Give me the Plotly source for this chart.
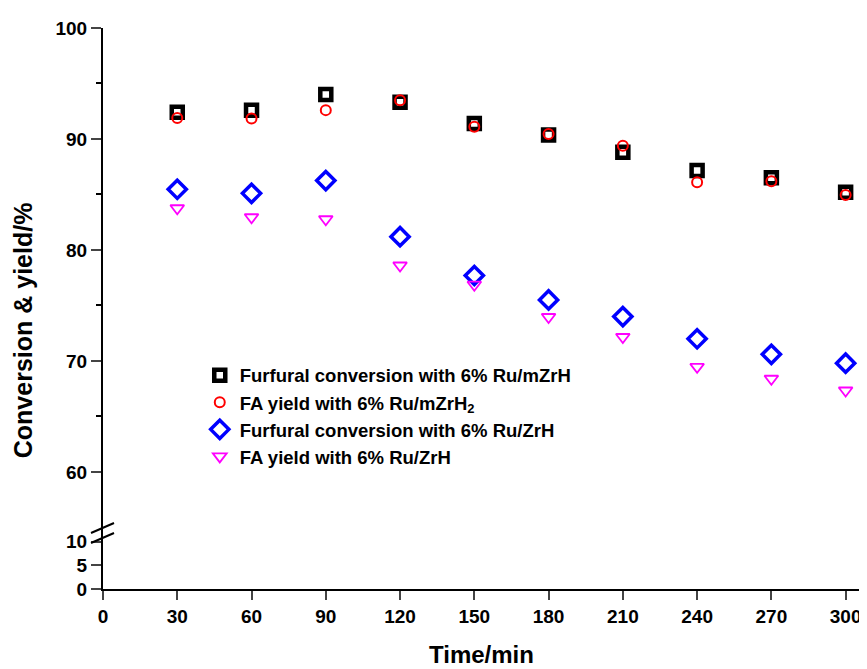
import plotly.graph_objects as go

time_min = [30, 60, 90, 120, 150, 180, 210, 240, 270, 300]
conv_mzrh = [92.4, 92.6, 94.0, 93.3, 91.4, 90.35, 88.8, 87.15, 86.5, 85.2]
yield_mzrh = [91.9, 91.85, 92.6, 93.5, 91.1, 90.45, 89.4, 86.1, 86.2, 84.96]
conv_zrh = [85.47, 85.1, 86.25, 81.2, 77.7, 75.5, 74.0, 72.0, 70.6, 69.8]
yield_zrh = [83.76, 82.95, 82.77, 78.6, 76.87, 73.96, 72.16, 69.47, 68.4, 67.34]

x_ticks = [0, 30, 60, 90, 120, 150, 180, 210, 240, 270, 300]
upper_ticks = [60, 70, 80, 90, 100]
upper_minor = [65, 75, 85, 95]
lower_ticks = [0, 5, 10]

names = [
    "Furfural conversion with 6% Ru/mZrH",
    "FA yield with 6% Ru/mZrH<sub>2</sub>",
    "Furfural conversion with 6% Ru/ZrH",
    "FA yield with 6% Ru/ZrH",
]

FONT = "Liberation Sans, Arial, Helvetica, sans-serif"

fig = go.Figure()
# empty trace so the lower (0-10) segment of the broken axis is created
fig.add_trace(go.Scatter(x=[None], y=[None], mode="markers", showlegend=False, hoverinfo="skip", yaxis="y"))
fig.add_trace(go.Scatter(x=time_min, y=conv_mzrh, mode="markers", name=names[0], yaxis="y2",
                         marker=dict(symbol="square-open", size=11, color="black", line=dict(width=4.5, color="black"))))
fig.add_trace(go.Scatter(x=time_min, y=yield_mzrh, mode="markers", name=names[1], yaxis="y2",
                         marker=dict(symbol="circle-open", size=10, color="red", line=dict(width=2, color="red"))))
fig.add_trace(go.Scatter(x=time_min, y=conv_zrh, mode="markers", name=names[2], yaxis="y2",
                         marker=dict(symbol="diamond-open", size=14, color="blue", line=dict(width=3.5, color="blue"))))
fig.add_trace(go.Scatter(x=time_min, y=yield_zrh, mode="markers", name=names[3], yaxis="y2",
                         marker=dict(symbol="triangle-down-open", size=12, color="magenta", line=dict(width=1.8, color="magenta"))))

split = 54 / 561.0
tickfont = dict(family=FONT, size=19, color="black", weight="bold")

fig.update_layout(
    width=859, height=661,
    margin=dict(l=95, r=6, t=20, b=80),
    paper_bgcolor="white", plot_bgcolor="white",
    showlegend=True,
    legend=dict(x=0.128, y=0.414, xanchor="left", yanchor="top",
                bgcolor="rgba(0,0,0,0)", font=dict(family=FONT, size=18.5, color="black", weight="bold"),
                tracegroupgap=0, itemsizing="trace"),
    xaxis=dict(range=[0, 305.4], tickvals=x_ticks, ticks="outside", ticklen=9, tickwidth=2,
               showline=True, linewidth=2, linecolor="black", showgrid=False, zeroline=False,
               tickfont=tickfont, anchor="y"),
    yaxis=dict(domain=[0, split], range=[0, 11.42], tickvals=lower_ticks, ticks="outside", ticklen=10, tickwidth=2,
               showline=True, linewidth=2, linecolor="black", showgrid=False, zeroline=False,
               tickfont=tickfont, anchor="x"),
    yaxis2=dict(domain=[split, 1], range=[54.32, 100], tickvals=upper_ticks, ticks="outside", ticklen=10, tickwidth=2,
                minor=dict(tickmode="array", tickvals=upper_minor, ticks="outside", ticklen=5, tickwidth=2, tickcolor="black"),
                showline=True, linewidth=2, linecolor="black", showgrid=False, zeroline=False,
                tickfont=tickfont, anchor="x"),
    annotations=[
        dict(text="Conversion & yield/%", x=-0.1055, y=0.4617, xref="paper", yref="paper",
             xanchor="center", yanchor="middle", textangle=-90, showarrow=False,
             font=dict(family=FONT, size=25, color="black", weight="bold")),
        dict(text="Time/min", x=0.5, y=-0.1165, xref="paper", yref="paper",
             xanchor="center", yanchor="middle", showarrow=False,
             font=dict(family=FONT, size=24, color="black", weight="bold")),
    ],
    shapes=[
        dict(type="line", xref="paper", yref="paper", xsizemode="pixel", ysizemode="pixel",
             xanchor=0, yanchor=split, x0=-12, x1=11, y0=2, y1=12, line=dict(color="black", width=2)),
        dict(type="line", xref="paper", yref="paper", xsizemode="pixel", ysizemode="pixel",
             xanchor=0, yanchor=split, x0=-12, x1=11, y0=-8, y1=2, line=dict(color="black", width=2)),
    ],
)

fig.write_html("out.html")
